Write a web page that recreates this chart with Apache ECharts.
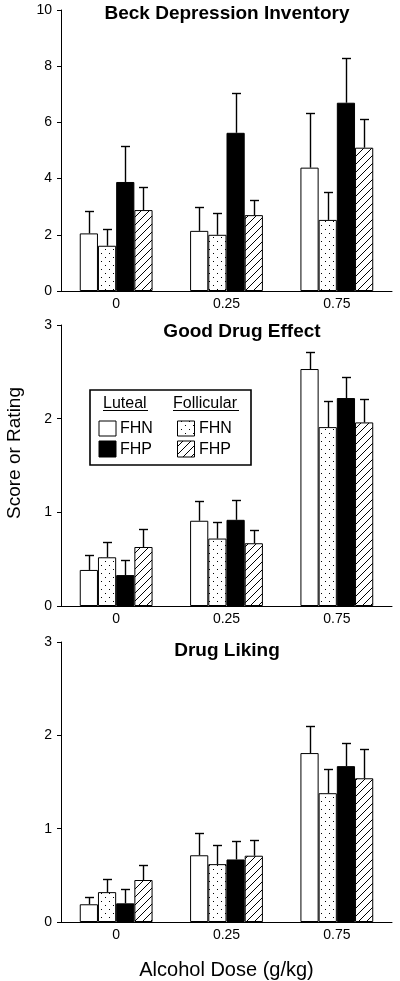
<!DOCTYPE html>
<html>
<head>
<meta charset="utf-8">
<script src="https://cdn.jsdelivr.net/npm/echarts@6.0.0/dist/echarts.min.js"></script>
<style>
html,body{margin:0;padding:0;background:#fff;}
#chart{width:400px;height:981px;}
</style>
</head>
<body>
<div id="chart"></div>
<script>
// ---- Data ----
const categories = ['0', '0.25', '0.75'];
const seriesNames = ['Luteal FHN', 'Follicular FHN', 'Luteal FHP', 'Follicular FHP'];
const panelTitles = ['Beck Depression Inventory', 'Good Drug Effect', 'Drug Liking'];
const yMax = [10, 3, 3];
const yInterval = [2, 1, 1];

// Beck Depression Inventory: means and upper error-bar ends (mean + SEM)
const beckLutFHN = [2.05, 2.14, 4.39];
const beckFolFHN = [1.61, 2.00, 2.53];
const beckLutFHP = [3.88, 5.63, 6.70];
const beckFolFHP = [2.88, 2.70, 5.10];
const beckLutFHNUp = [2.86, 2.98, 6.35];
const beckFolFHNUp = [2.20, 2.77, 3.51];
const beckLutFHPUp = [5.16, 7.04, 8.28];
const beckFolFHPUp = [3.71, 3.24, 6.11];

// Good Drug Effect
const goodLutFHN = [0.385, 0.91, 2.53];
const goodFolFHN = [0.52, 0.72, 1.91];
const goodLutFHP = [0.33, 0.92, 2.22];
const goodFolFHP = [0.63, 0.67, 1.96];
const goodLutFHNUp = [0.54, 1.12, 2.71];
const goodFolFHNUp = [0.68, 0.90, 2.19];
const goodLutFHPUp = [0.49, 1.13, 2.45];
const goodFolFHPUp = [0.82, 0.81, 2.21];

// Drug Liking
const likeLutFHN = [0.19, 0.715, 1.81];
const likeFolFHN = [0.32, 0.62, 1.38];
const likeLutFHP = [0.20, 0.67, 1.67];
const likeFolFHP = [0.45, 0.71, 1.54];
const likeLutFHNUp = [0.27, 0.95, 2.10];
const likeFolFHNUp = [0.46, 0.83, 1.64];
const likeLutFHPUp = [0.35, 0.87, 1.92];
const likeFolFHPUp = [0.61, 0.88, 1.85];

const panels = [
  {means: [beckLutFHN, beckFolFHN, beckLutFHP, beckFolFHP], ups: [beckLutFHNUp, beckFolFHNUp, beckLutFHPUp, beckFolFHPUp]},
  {means: [goodLutFHN, goodFolFHN, goodLutFHP, goodFolFHP], ups: [goodLutFHNUp, goodFolFHNUp, goodLutFHPUp, goodFolFHPUp]},
  {means: [likeLutFHN, likeFolFHN, likeLutFHP, likeFolFHP], ups: [likeLutFHNUp, likeFolFHNUp, likeLutFHPUp, likeFolFHPUp]}
];

// ---- Patterns ----
function dotCanvas() {
  const c = document.createElement('canvas');
  c.width = 8; c.height = 8;
  const g = c.getContext('2d');
  g.fillStyle = '#fff'; g.fillRect(0, 0, 8, 8);
  g.fillStyle = '#000';
  g.fillRect(1, 1, 1, 1);
  g.fillRect(5, 5, 1, 1);
  return c;
}
function hatchCanvas() {
  const c = document.createElement('canvas');
  c.width = 8; c.height = 8;
  const g = c.getContext('2d');
  g.fillStyle = '#fff'; g.fillRect(0, 0, 8, 8);
  g.strokeStyle = '#000'; g.lineWidth = 1;
  g.beginPath();
  g.moveTo(-1, 9); g.lineTo(9, -1);
  g.moveTo(-1, 1); g.lineTo(1, -1);
  g.moveTo(7, 9); g.lineTo(9, 7);
  g.stroke();
  return c;
}
const dotPat = {image: dotCanvas(), repeat: 'repeat'};
const hatchPat = {image: hatchCanvas(), repeat: 'repeat'};
const fills = ['#ffffff', dotPat, '#000000', hatchPat];

const FONT = "'Liberation Sans', Arial, Helvetica, sans-serif";
const gridTops = [10, 325, 642];
const gridH = 281;
const GAP = 0.34;

const grids = [], xAxes = [], yAxes = [], series = [];
for (let p = 0; p < 3; p++) {
  grids.push({left: 61, right: 8, top: gridTops[p], height: gridH, containLabel: false});
  xAxes.push({
    type: 'category', gridIndex: p, data: categories,
    axisLine: {show: true, lineStyle: {color: '#000', width: 1}},
    axisTick: {show: false},
    axisLabel: {color: '#000', fontSize: 14, fontFamily: FONT, margin: 6},
    splitLine: {show: false},
    name: p === 2 ? 'Alcohol Dose (g/kg)' : '',
    nameLocation: 'middle', nameGap: 38,
    nameTextStyle: {color: '#000', fontSize: 20, fontFamily: FONT}
  });
  yAxes.push({
    type: 'value', gridIndex: p, min: 0, max: yMax[p], interval: yInterval[p],
    axisLine: {show: true, lineStyle: {color: '#000', width: 1}},
    axisTick: {show: true, length: 4, lineStyle: {color: '#000'}},
    axisLabel: {color: '#000', fontSize: 14, fontFamily: FONT, margin: 9},
    splitLine: {show: false}
  });
  for (let s = 0; s < 4; s++) {
    series.push({
      type: 'bar', name: seriesNames[s], xAxisIndex: p, yAxisIndex: p,
      data: panels[p].means[s],
      barGap: '0%', barCategoryGap: (GAP * 100) + '%',
      itemStyle: {color: fills[s], borderColor: '#000', borderWidth: 1},
      emphasis: {disabled: true},
      silent: true, z: 2
    });
  }
  const errData = [];
  for (let s = 0; s < 4; s++) {
    for (let c = 0; c < categories.length; c++) {
      errData.push([c, panels[p].ups[s][c], panels[p].means[s][c], s]);
    }
  }
  series.push({
    type: 'custom', xAxisIndex: p, yAxisIndex: p, z: 5, silent: true,
    data: errData,
    encode: {x: 0, y: 1},
    renderItem: function (params, api) {
      const c = api.value(0), top = api.value(1), base = api.value(2), idx = api.value(3);
      const band = api.size([1, 0])[0];
      const barW = band * (1 - GAP) / 4;
      const cx = Math.round(api.coord([c, 0])[0] + (idx - 1.5) * barW) + 0.5;
      const y1 = api.coord([c, base])[1];
      const y2 = Math.round(api.coord([c, top])[1]) + 0.5;
      const st = {stroke: '#000', lineWidth: 1.4};
      return {type: 'group', children: [
        {type: 'line', shape: {x1: cx, y1: y1, x2: cx, y2: y2}, style: st},
        {type: 'line', shape: {x1: cx - 4.5, y1: y2, x2: cx + 4.5, y2: y2}, style: st}
      ]};
    }
  });
}

const titlePos = [[227, 14], [242, 332], [227, 651]];
const graphic = [];
for (let p = 0; p < 3; p++) {
  graphic.push({type: 'text', x: titlePos[p][0], y: titlePos[p][1], silent: true,
    style: {text: panelTitles[p], fill: '#000', font: 'bold 19px ' + FONT, textAlign: 'center', textVerticalAlign: 'middle'}});
}
graphic.push({type: 'text', x: 15, y: 453, rotation: Math.PI / 2, silent: true,
  style: {text: 'Score or Rating', fill: '#000', font: '19px ' + FONT, textAlign: 'center', textVerticalAlign: 'middle'}});

// Legend box
const lf = '16px ' + FONT;
graphic.push({type: 'rect', shape: {x: 90, y: 390, width: 161, height: 75}, z: 10,
  style: {fill: '#fff', stroke: '#000', lineWidth: 1.6}});
graphic.push({type: 'text', x: 103, y: 403.5, z: 11, style: {text: 'Luteal', fill: '#000', font: lf, textVerticalAlign: 'middle'}});
graphic.push({type: 'line', shape: {x1: 103, y1: 410.5, x2: 148, y2: 410.5}, z: 11, style: {stroke: '#000', lineWidth: 1}});
graphic.push({type: 'text', x: 173, y: 403.5, z: 11, style: {text: 'Follicular', fill: '#000', font: lf, textVerticalAlign: 'middle'}});
graphic.push({type: 'line', shape: {x1: 173, y1: 410.5, x2: 239, y2: 410.5}, z: 11, style: {stroke: '#000', lineWidth: 1}});
const legItems = [
  {x: 99, y: 421, h: 15, fill: fills[0], label: 'FHN', tx: 120, ty: 429},
  {x: 99, y: 441, h: 16, fill: fills[2], label: 'FHP', tx: 120, ty: 449.5},
  {x: 177.5, y: 421, h: 15, fill: fills[1], label: 'FHN', tx: 199, ty: 429},
  {x: 177.5, y: 441, h: 16, fill: fills[3], label: 'FHP', tx: 199, ty: 449.5}
];
legItems.forEach(function (it) {
  graphic.push({type: 'rect', shape: {x: it.x, y: it.y, width: 17, height: it.h}, z: 11,
    style: {fill: it.fill, stroke: '#000', lineWidth: 1}});
  graphic.push({type: 'text', x: it.tx, y: it.ty, z: 11,
    style: {text: it.label, fill: '#000', font: lf, textVerticalAlign: 'middle'}});
});

const chart = echarts.init(document.getElementById('chart'), null, {renderer: 'canvas'});
chart.setOption({
  animation: false,
  backgroundColor: '#fff',
  grid: grids, xAxis: xAxes, yAxis: yAxes, series: series,
  graphic: graphic
});
</script>
</body>
</html>
